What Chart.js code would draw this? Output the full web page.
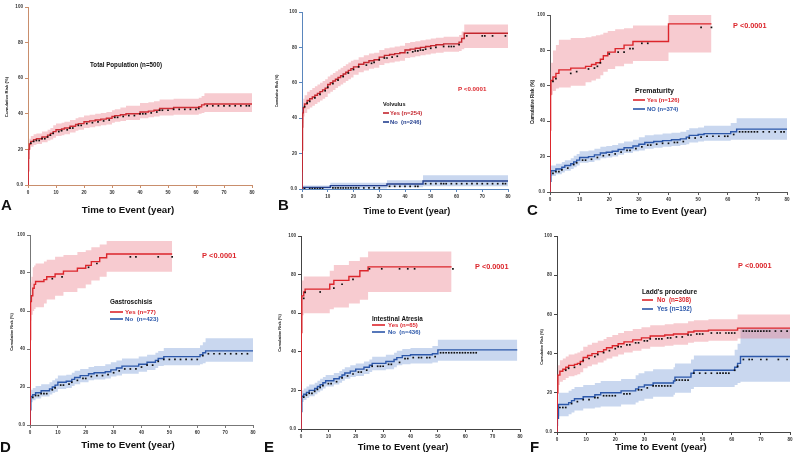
<!DOCTYPE html>
<html>
<head>
<meta charset="utf-8">
<script src="https://cdn.jsdelivr.net/npm/chart.js@4.4.1/dist/chart.umd.min.js"></script>
<style>
  body { margin: 0; background: #fff; }
  #fig { position: relative; width: 800px; height: 459px; overflow: hidden; background: #fff; }
  #fig canvas { position: absolute; }
  .letter { position: absolute; font: bold 15px "Liberation Sans", Arial, sans-serif; color: #111; line-height: 1; }
</style>
</head>
<body>
<div id="fig"></div>
<script>
// tick labels
var xTickLabels = ['0', '10', '20', '30', '40', '50', '60', '70', '80'];
var yTickLabels = ['0.0', '20', '40', '60', '80', '100'];

// A - total population
var totT  = [0, 0.1, 0.2, 0.3, 0.5, 1, 2, 3, 5, 7, 8, 9, 10, 12, 13, 15, 17, 18, 20, 22, 24, 26, 28, 30, 31, 33, 35, 40, 43, 45, 47, 52, 61, 62, 63, 80];
var totV  = [0, 8, 15, 20, 23, 24.5, 25.5, 26, 27, 28, 29, 30, 31, 31.5, 32, 33, 34, 34.5, 35.5, 36, 36.5, 37, 37.5, 38.5, 39, 39.5, 40, 41, 41.5, 42, 43, 43.5, 44, 45, 45.5, 45.5];
var totLo = [0, 6, 12, 17, 20, 21.5, 22.5, 23, 24, 25, 25.5, 26.5, 27.5, 28, 28.5, 29.5, 30.5, 31, 32, 32.5, 33, 33.5, 34, 35, 35.5, 36, 36.5, 37.5, 38, 38.5, 39, 39.5, 40, 40.5, 41, 41];
var totHi = [0, 10, 18, 23, 26, 27.5, 28.5, 29, 30, 31, 32, 33.5, 34.5, 35, 35.5, 36.5, 37.5, 38, 39, 39.5, 40, 40.5, 41, 42, 42.5, 43.5, 44.5, 46, 46.5, 47, 48, 48.5, 49, 50, 51.5, 51.5];
var totCx = [1, 2, 3, 4, 5, 6, 7, 8, 9, 11, 12, 14, 15, 16, 18, 19, 21, 23, 25, 27, 29, 31, 32, 34, 36, 38, 40, 41, 42, 44, 46, 47, 48, 50, 52, 54, 56, 58, 60, 61, 64, 66, 68, 70, 72, 74, 76, 78, 79];
var totCy = [23.5, 24.5, 25, 25, 26, 26, 27, 28, 29, 30, 30.5, 31, 32, 32, 33.5, 33.5, 34.5, 35, 35.5, 36, 36.5, 38, 38, 38.5, 39, 39, 40, 40, 40, 40.5, 41, 42, 42, 42, 42.5, 42.5, 42.5, 42.5, 42.5, 43, 44.5, 44.5, 44.5, 44.5, 44.5, 44.5, 44.5, 44.5, 44.5];

// B - volvulus
var volYesT  = [0, 0.05, 0.1, 0.2, 0.3, 0.5, 1, 2, 3, 4, 5, 6, 7, 8, 9, 10, 11, 12, 13, 14, 15, 16, 17, 18, 19, 20, 22, 24, 26, 28, 30, 32, 34, 36, 38, 40, 42, 44, 46, 48, 50, 52, 55, 61, 62, 63, 80];
var volYesV  = [0, 10, 22, 35, 43, 46, 48, 50, 51, 52, 53, 54, 55, 56, 57, 59, 60, 61, 62, 63, 64, 65, 66, 67, 68, 69, 70.5, 71.5, 72.5, 73, 74.5, 75.5, 76, 76.5, 77, 78.5, 79, 79.5, 80, 80.5, 81, 81.5, 82, 83, 85, 88, 88];
var volYesLo = [0, 5, 15, 28, 37, 41, 43, 45, 46, 47, 48, 49, 50, 51, 52, 54, 55, 56, 57, 58, 59, 60, 61, 62, 63, 64.5, 66, 67, 68, 68.5, 70, 71, 71.5, 72, 72.5, 74, 74.5, 75, 75.5, 76, 76.5, 77, 77.5, 78, 79, 79.7, 79.7];
var volYesHi = [0, 15, 29, 42, 49, 51, 53, 55, 56, 57, 58, 59, 60, 61, 62, 63.5, 64.5, 65.5, 66.5, 67.5, 68.5, 69.5, 70.5, 71.5, 72.5, 73, 74.5, 75.5, 76.5, 77, 78.5, 79.5, 80, 80.5, 81, 82.5, 83, 83.5, 84, 84.5, 85, 85.5, 86, 87, 89, 93, 93];
var volYesCx = [1, 2, 3, 5, 7, 9, 10, 12, 14, 16, 18, 20, 22, 25, 27, 28, 30, 32, 33, 35, 37, 41, 43, 44, 45, 46, 47, 48, 50, 52, 55, 57, 58, 59, 61, 64, 70, 71, 74, 79];
var volYesCy = [46.5, 48.5, 49.5, 51.5, 53.5, 55.5, 57.5, 59.5, 61.5, 63.5, 65.5, 67.5, 69, 70, 71, 71.5, 73, 74, 74, 74.5, 75, 77, 77.5, 78, 78, 78.5, 78.5, 79, 79.5, 80, 80.5, 80.5, 80.5, 80.5, 81.5, 86.5, 86.5, 86.5, 86.5, 86.5];
var volNoT  = [0, 0.3, 10, 11, 32, 33, 46, 47, 80];
var volNoV  = [0, 0.9, 0.9, 1.9, 1.9, 2.8, 2.8, 4.5, 4.5];
var volNoLo = [0, 0, 0, 0.3, 0.3, 1, 1, 1.5, 1.5];
var volNoHi = [0, 2, 2, 3.5, 3.5, 5, 5, 7.8, 7.8];
var volNoCx = [1, 3, 4, 5, 6, 7, 8, 12, 13, 14, 15, 16, 17, 18, 19, 20, 21, 22, 24, 26, 28, 30, 34, 36, 38, 40, 42, 44, 45, 48, 50, 52, 54, 55, 56, 58, 60, 62, 64, 66, 68, 70, 72, 74, 76, 78, 79];
var volNoCy = [0.2, 0.2, 0.2, 0.2, 0.2, 0.2, 0.2, 0.6, 0.6, 0.6, 0.6, 0.6, 0.6, 0.6, 0.6, 0.6, 0.6, 0.6, 0.6, 0.6, 0.6, 0.6, 1.5, 1.5, 1.5, 1.5, 1.5, 1.5, 1.5, 3, 3, 3, 3, 3, 3, 3, 3, 3, 3, 3, 3, 3, 3, 3, 3, 3, 3];

// C - prematurity
var premYesT  = [0, 0.05, 0.1, 0.2, 0.3, 1, 2, 3, 7, 12, 14, 15.5, 17, 18, 19.5, 22, 25, 28, 40, 54.5];
var premYesV  = [0, 15, 35, 55, 63, 65, 67, 69, 70, 71, 72, 73, 75, 77, 79, 81, 83, 85, 95, 95];
var premYesLo = [0, 5, 20, 45, 55, 57, 58.5, 59, 60, 62, 63, 64, 66, 68, 69.5, 71, 72.5, 74, 78.8, 78.8];
var premYesHi = [0, 25, 50, 68, 73, 80, 83, 86, 87, 87.5, 88, 88.5, 89, 90, 91, 92, 92.5, 94, 100, 100];
var premYesCx = [1, 2, 7, 9, 13, 15, 16, 17, 20, 23, 25, 27, 28, 31, 33, 51, 54.5];
var premYesCy = [62.5, 64, 67, 68, 69.5, 70, 71, 73, 78, 79, 79, 81, 81, 84, 84, 93, 93];
var premNoT  = [0, 0.1, 0.3, 2, 4, 5, 7, 8, 9, 10, 13, 15, 17, 19, 21, 23, 25, 28, 30, 32, 35, 38, 41, 44, 46, 47, 50, 52, 61, 63, 80];
var premNoV  = [0, 6, 12, 13, 14, 15, 16, 17, 18, 19.5, 20, 21, 22, 22.5, 23, 24, 25, 26, 27, 28, 28.5, 29, 29.5, 30, 31, 32, 32.5, 33, 34, 35.5, 35.5];
var premNoLo = [0, 4, 9, 10, 11, 12, 13, 14, 15, 16.5, 17, 18, 19, 19.5, 20, 21, 22, 23, 23.5, 24.5, 25, 25.5, 26, 26.5, 27, 28, 28.5, 29, 29.5, 29.5, 29.5];
var premNoHi = [0, 8, 15, 16, 17, 18, 19, 20.5, 21.5, 23, 23.5, 24.5, 25.5, 26, 26.5, 27.5, 28.5, 29.5, 31, 32, 32.5, 33, 33.5, 34, 35, 36, 36.5, 37.5, 39, 41.7, 41.7];
var premNoCx = [1, 2, 3, 4, 6, 8, 9, 11, 12, 14, 16, 18, 20, 22, 24, 26, 27, 29, 31, 33, 34, 36, 38, 40, 42, 43, 45, 47, 49, 51, 53, 55, 57, 59, 60, 62, 64, 65, 66, 67, 68, 69, 70, 72, 74, 76, 78, 79];
var premNoCy = [10.5, 11.5, 11.5, 12.5, 13.5, 15.5, 16.5, 18, 18, 18.5, 19.5, 20.5, 21, 21.5, 22.5, 23.5, 23.5, 24.5, 25.5, 26.5, 26.5, 27, 27.5, 27.5, 28, 28, 28.5, 30.5, 30.5, 31, 31.5, 31.5, 31.5, 31.5, 31.5, 32.5, 34, 34, 34, 34, 34, 34, 34, 34, 34, 34, 34, 34];

// D - gastroschisis
var gasYesT  = [0, 0.05, 0.1, 0.2, 0.5, 1, 1.5, 2, 5, 6, 9, 12, 17, 20, 22, 25, 27.5, 51];
var gasYesV  = [0, 20, 45, 65, 68, 72, 74, 75.5, 76.5, 78, 79.5, 81, 82.5, 84, 86, 88, 90, 90];
var gasYesLo = [0, 10, 30, 55, 58, 60, 61, 62, 64, 66, 68, 70, 72, 74, 76, 78, 80.7, 80.7];
var gasYesHi = [0, 30, 60, 75, 78, 83, 84, 85, 86, 87, 88.5, 89.5, 91, 92, 93.5, 95, 96.8, 96.8];
var gasYesCx = [8, 11.5, 21, 24, 36, 38, 46, 51];
var gasYesCy = [77, 78, 83, 85, 88.5, 88.5, 88.5, 88.5];
var gasNoT  = [0, 0.1, 0.3, 1, 2, 4, 7, 8, 9, 10, 13, 15, 16, 18, 21, 23, 27, 29, 31, 33, 39, 42, 45, 46, 48, 61, 62, 63, 80];
var gasNoV  = [0, 8, 15, 16, 17, 18, 19, 20, 21, 22.5, 23, 24, 25, 26, 27, 27.5, 28, 29, 30, 31, 32, 33, 34, 35, 36, 37, 38, 39, 39];
var gasNoLo = [0, 5, 12, 13, 14, 15, 16, 17, 17.5, 19, 19.5, 20.5, 21.5, 22.5, 23.5, 24, 24.5, 25.5, 26, 27, 28, 29, 30, 31, 31.5, 32, 32.5, 33.3, 33.3];
var gasNoHi = [0, 11, 18.5, 19.5, 20.5, 21.5, 22.5, 23.5, 24.5, 26, 26.5, 27.5, 28.5, 29.5, 30.5, 31, 32, 33, 34, 35, 36, 37, 38, 39, 40.5, 42, 43.5, 45.6, 45.6];
var gasNoCx = [1, 2, 3, 4, 5, 6, 8, 9, 11, 12, 14, 15, 17, 19, 20, 22, 24, 26, 28, 30, 32, 34, 36, 38, 40, 42, 44, 46, 48, 50, 52, 54, 56, 58, 60, 62, 64, 66, 68, 70, 72, 74, 76, 78];
var gasNoCy = [14.5, 15.5, 15.5, 16.5, 16.5, 16.5, 18.5, 19.5, 21, 21, 21.5, 22.5, 23.5, 24.5, 24.5, 25.5, 26, 26, 26.5, 27.5, 28.5, 29.5, 29.5, 29.5, 30.5, 31.5, 31.5, 33.5, 34.5, 34.5, 34.5, 34.5, 34.5, 34.5, 34.5, 36.5, 37.5, 37.5, 37.5, 37.5, 37.5, 37.5, 37.5, 37.5];

// E - intestinal atresia
var iaYesT  = [0, 0.05, 0.1, 0.3, 1, 1.5, 10.5, 12, 17.5, 21.5, 24.5, 55];
var iaYesV  = [0, 25, 50, 69, 71, 72.5, 75, 77, 79, 82, 84, 84];
var iaYesLo = [0, 10, 35, 59, 60, 60, 62, 63, 65, 67, 71, 71];
var iaYesHi = [0, 40, 65, 77, 79, 79, 82, 85, 87, 89, 92, 92];
var iaYesCx = [1, 1.5, 7, 12, 15, 19, 25, 29.5, 36, 39, 41.5, 55.5];
var iaYesCy = [67.7, 70.8, 71, 73, 75, 77.5, 83, 83, 83, 83, 83, 83];
var iaNoT  = [0, 0.1, 0.3, 1, 2, 3, 5, 6, 7, 8, 9, 12, 14, 15, 16, 18, 20, 23, 25, 26, 31, 34, 35, 37, 40, 48, 50, 79];
var iaNoV  = [0, 9, 17, 18, 19, 20, 21, 22, 23, 24, 25, 26, 27, 28, 29, 30, 31, 32, 33, 34, 35, 36, 37, 38, 38.5, 39, 41, 41];
var iaNoLo = [0, 6, 14, 15, 16, 17, 18, 19, 20, 21, 22, 23, 24, 25, 26, 27, 27.5, 28.5, 29.5, 30.5, 31, 32, 33, 33.5, 34, 34.5, 35.3, 35.3];
var iaNoHi = [0, 12, 20, 21, 22, 23, 24, 25, 26, 27, 28, 29, 30, 31, 32, 33, 34, 35, 36, 37.5, 38.5, 39.5, 40.5, 41.5, 42, 43, 46.2, 46.2];
var iaNoCx = [1, 2, 3, 4, 5, 6, 7, 8, 10, 11, 13, 15, 17, 19, 21, 22, 24, 26, 28, 29, 30, 32, 33, 36, 38, 39, 41, 43, 44, 46, 47, 49, 51, 52, 53, 54, 55, 56, 57, 58, 59, 60, 61, 62, 63, 64];
var iaNoCy = [16.5, 17.5, 18.5, 18.5, 19.5, 20.5, 21.5, 22.5, 23.5, 23.5, 24.5, 26.5, 27.5, 28.5, 29.5, 29.5, 30.5, 32.5, 32.5, 32.5, 32.5, 33.5, 33.5, 34.5, 36.5, 36.5, 37, 37, 37, 37, 37, 37.5, 39.5, 39.5, 39.5, 39.5, 39.5, 39.5, 39.5, 39.5, 39.5, 39.5, 39.5, 39.5, 39.5, 39.5];

// F - Ladd's procedure
var laddNoT  = [0, 0.05, 0.1, 0.3, 1, 2, 3, 4, 6, 7, 8, 9, 10.5, 12, 14, 16, 17, 19, 21, 23, 26, 29, 32, 37, 40, 45, 47, 52, 62, 80];
var laddNoV  = [0, 10, 20, 29, 31, 32, 33, 34, 34.5, 35, 36, 38, 39, 40, 41, 42, 43, 44, 45, 46, 47, 48, 49, 49.5, 50, 51, 51.5, 52, 53, 53];
var laddNoLo = [0, 5, 14, 24, 25.6, 26.5, 27.5, 28.5, 29, 29.5, 30.5, 32.5, 33.5, 34.5, 35.5, 36.5, 37.5, 38.5, 39.5, 40.5, 41.5, 42.5, 43.5, 44, 44.5, 45.5, 46, 46.5, 47.7, 47.7];
var laddNoHi = [0, 15, 26, 34, 36.6, 37.5, 38.5, 39.5, 40, 40.5, 41.5, 43.5, 44.5, 45.5, 46.5, 47.5, 48.5, 49.5, 50.5, 51.5, 52.5, 53.5, 54.5, 55, 55.5, 56.5, 57, 57.5, 60, 60];
var laddNoCx = [3, 4, 6, 8, 9, 11, 13, 14, 16, 18, 20, 21, 22, 24, 25, 27, 28, 30, 31, 32, 34, 35, 36, 38, 39, 41, 43, 45, 46, 48, 49, 50, 53, 55, 56, 58, 59, 60, 61, 64, 65, 66, 67, 68, 69, 70, 71, 72, 73, 75, 77, 79];
var laddNoCy = [31.5, 32.5, 33, 34.5, 36.5, 37.5, 38.5, 39.5, 40.5, 41.5, 42.5, 43.5, 43.5, 44.5, 44.5, 45.5, 45.5, 46.5, 46.5, 47.5, 47.5, 47.5, 47.5, 48, 48, 48.5, 48.5, 49.5, 49.5, 50, 50, 50, 50.5, 50.5, 50.5, 50.5, 50.5, 50.5, 50.5, 51.5, 51.5, 51.5, 51.5, 51.5, 51.5, 51.5, 51.5, 51.5, 51.5, 51.5, 51.5, 51.5];
var laddYesT  = [0, 0.1, 0.5, 4, 5, 6, 9, 13, 15, 22, 27, 28, 30, 33, 40, 40.5, 46, 47, 61, 62, 63, 80];
var laddYesV  = [0, 7, 14, 15, 16, 17, 18, 19, 20, 21, 22, 23, 24, 25, 26, 28, 30, 31.5, 33, 35, 38.5, 38.5];
var laddYesLo = [0, 3, 8, 9, 10, 11, 12, 12.5, 13, 14, 15, 16, 17, 18, 19, 20, 22, 23, 24, 25, 25.6, 25.6];
var laddYesHi = [0, 12, 20, 21, 22, 23, 24, 25, 26, 27, 29, 30, 31, 32, 33, 35, 37, 39, 42, 45, 52.8, 52.8];
var laddYesCx = [1, 2, 3, 5, 7, 9, 11, 13, 14, 16, 17, 18, 19, 20, 23, 24, 25, 28, 29, 31, 33, 34, 35, 36, 37, 38, 39, 41, 42, 43, 44, 45, 47, 49, 51, 53, 55, 56, 57, 58, 59, 61, 62, 64, 66, 67, 70, 72, 76, 79];
var laddYesCy = [12.5, 12.5, 12.5, 14.5, 15.5, 16.5, 16.5, 17.5, 17.5, 18.5, 18.5, 18.5, 18.5, 18.5, 19.5, 19.5, 19.5, 21.5, 21.5, 22.5, 23.5, 23.5, 23.5, 23.5, 23.5, 23.5, 23.5, 26.5, 26.5, 26.5, 26.5, 26.5, 30, 30, 30, 30, 30, 30, 30, 30, 30, 31.5, 33.5, 37, 37, 37, 37, 37, 37, 37];

var RED = '#dc262c', BLUE = '#2d58aa';
var PINK = 'rgba(232,110,125,0.36)', LBLUE = 'rgba(105,145,212,0.36)';
var FONT = '"Liberation Sans", Arial, sans-serif';
var xTitle = 'Time to Event (year)';
var yTitle = 'Cumulative Risk (%)';

// layout of each panel (page pixels): canvas box, plot box, titles, notes
var panels = [
  { id: 'A', box: [0, 0, 258, 218], plot: [28, 7, 252, 185], axis: '#c98e6c',
    xT: [128, 210, 9.7], yT: [7, 97, 4.2], letter: [1, 197],
    curves: [{t: totT, v: totV, lo: totLo, hi: totHi, cx: totCx, cy: totCy, line: '#cf2e36', band: PINK}],
    swatches: [],
    notes: [{s: 'Total Population (n=500)', x: 90, y: 65, size: 7.6, sx: 0.82, c: '#111'}] },
  { id: 'B', box: [270, 2, 244, 218], plot: [302, 12, 508, 189], axis: '#5a86bd',
    xT: [407, 211, 9.1], yT: [277, 91, 3.4], letter: [278, 197],
    curves: [{t: volYesT, v: volYesV, lo: volYesLo, hi: volYesHi, cx: volYesCx, cy: volYesCy, line: '#c4262e', band: PINK},
             {t: volNoT, v: volNoV, lo: volNoLo, hi: volNoHi, cx: volNoCx, cy: volNoCy, line: '#25408f', band: LBLUE}],
    swatches: [[383, 389, 113, '#c4262e'], [383, 389, 122, '#25408f']],
    notes: [{s: 'Volvulus', x: 383, y: 104, size: 5.5, c: '#111'},
            {s: 'Yes (n=254)', x: 390, y: 113, size: 5.8, c: '#c4262e'},
            {s: 'No  (n=246)', x: 390, y: 122, size: 5.8, c: '#25408f'},
            {s: 'P <0.0001', x: 458, y: 89, size: 6.2, c: RED}] },
  { id: 'C', box: [528, 4, 268, 218], plot: [550, 15, 787, 192], axis: '#555',
    xT: [661, 211, 9.6], yT: [533, 102, 4.6], letter: [527, 202],
    curves: [{t: premYesT, v: premYesV, lo: premYesLo, hi: premYesHi, cx: premYesCx, cy: premYesCy, line: RED, band: PINK},
             {t: premNoT, v: premNoV, lo: premNoLo, hi: premNoHi, cx: premNoCx, cy: premNoCy, line: BLUE, band: LBLUE}],
    swatches: [[633, 645, 100, RED], [633, 645, 109, BLUE]],
    notes: [{s: 'Prematurity', x: 635, y: 91, size: 7, c: '#111'},
            {s: 'Yes (n=126)', x: 647, y: 100, size: 5.9, c: RED},
            {s: 'NO (n=374)', x: 647, y: 109, size: 5.9, c: BLUE},
            {s: 'P <0.0001', x: 733, y: 26, size: 7.3, c: RED}] },
  { id: 'D', box: [2, 228, 256, 228], plot: [30, 235, 253, 425], axis: '#777',
    xT: [128, 445, 9.8], yT: [12, 332, 3.9], letter: [0, 439],
    curves: [{t: gasYesT, v: gasYesV, lo: gasYesLo, hi: gasYesHi, cx: gasYesCx, cy: gasYesCy, line: RED, band: PINK},
             {t: gasNoT, v: gasNoV, lo: gasNoLo, hi: gasNoHi, cx: gasNoCx, cy: gasNoCy, line: BLUE, band: LBLUE}],
    swatches: [[110, 123, 312, RED], [110, 123, 319, BLUE]],
    notes: [{s: 'Gastroschisis', x: 110, y: 302, size: 6.4, c: '#111'},
            {s: 'Yes (n=77)', x: 125, y: 312, size: 6.2, c: RED},
            {s: 'No  (n=423)', x: 125, y: 319, size: 6.2, c: BLUE},
            {s: 'P <0.0001', x: 202, y: 256, size: 7.5, c: RED}] },
  { id: 'E', box: [272, 228, 254, 228], plot: [301, 236, 520, 429], axis: '#444',
    xT: [403, 447, 9.5], yT: [280, 333, 3.9], letter: [264, 439],
    curves: [{t: iaYesT, v: iaYesV, lo: iaYesLo, hi: iaYesHi, cx: iaYesCx, cy: iaYesCy, line: RED, band: PINK},
             {t: iaNoT, v: iaNoV, lo: iaNoLo, hi: iaNoHi, cx: iaNoCx, cy: iaNoCy, line: BLUE, band: LBLUE}],
    swatches: [[372, 385, 325, RED], [372, 385, 332, BLUE]],
    notes: [{s: 'Intestinal Atresia', x: 372, y: 319, size: 6.3, c: '#111'},
            {s: 'Yes (n=65)', x: 388, y: 325, size: 6, c: RED},
            {s: 'No  (n=436)', x: 388, y: 332, size: 6, c: BLUE},
            {s: 'P <0.0001', x: 475, y: 267, size: 7.3, c: RED}] },
  { id: 'F', box: [532, 228, 266, 228], plot: [557, 236, 790, 432], axis: '#444',
    xT: [661, 447, 9.6], yT: [542, 347, 3.7], letter: [530, 439],
    curves: [{t: laddNoT, v: laddNoV, lo: laddNoLo, hi: laddNoHi, cx: laddNoCx, cy: laddNoCy, line: RED, band: PINK},
             {t: laddYesT, v: laddYesV, lo: laddYesLo, hi: laddYesHi, cx: laddYesCx, cy: laddYesCy, line: BLUE, band: LBLUE}],
    swatches: [[642, 653, 300, RED], [642, 653, 309, BLUE]],
    notes: [{s: "Ladd's procedure", x: 642, y: 292, size: 6.6, c: '#111'},
            {s: 'No  (n=308)', x: 657, y: 300, size: 6.3, c: RED},
            {s: 'Yes (n=192)', x: 657, y: 309, size: 6.3, c: BLUE},
            {s: 'P <0.0001', x: 738, y: 266, size: 7.3, c: RED}] }
];

function pts(t, v) {
  return t.map(function(x, i) { return {x: x, y: v[i]}; });
}

function curveSets(c) {
  return [
    {data: pts(c.t, c.hi), borderWidth: 0, pointRadius: 0, fill: false, stepped: true, order: 3},
    {data: pts(c.t, c.lo), borderWidth: 0, pointRadius: 0, fill: '-1', backgroundColor: c.band, stepped: true, order: 3},
    {data: pts(c.t, c.v), borderColor: c.line, borderWidth: 1.4, pointRadius: 0, fill: false, stepped: true, order: 2},
    {data: pts(c.cx, c.cy), showLine: false, pointStyle: 'rect', pointRadius: 1.2, backgroundColor: '#111', borderWidth: 0, order: 1}
  ];
}

// draws titles, legend and p value text in page coordinates
function notesPlugin(p) {
  return {
    id: 'notes' + p.id,
    afterDraw: function(chart) {
      var ctx = chart.ctx;
      ctx.save();
      ctx.translate(-p.box[0], -p.box[1]);
      ctx.textBaseline = 'middle';
      ctx.fillStyle = '#111';
      ctx.textAlign = 'center';
      ctx.font = 'bold ' + p.xT[2] + 'px ' + FONT;
      ctx.fillText(xTitle, p.xT[0], p.xT[1]);
      ctx.save();
      ctx.translate(p.yT[0], p.yT[1]);
      ctx.rotate(-Math.PI / 2);
      ctx.font = 'bold ' + p.yT[2] + 'px ' + FONT;
      ctx.fillText(yTitle, 0, 0);
      ctx.restore();
      p.swatches.forEach(function(s) {
        ctx.fillStyle = s[3];
        ctx.fillRect(s[0], s[2] - 0.8, s[1] - s[0], 1.6);
      });
      ctx.textAlign = 'left';
      p.notes.forEach(function(n) {
        ctx.save();
        ctx.translate(n.x, n.y);
        ctx.scale(n.sx || 1, 1);
        ctx.fillStyle = n.c;
        ctx.font = 'bold ' + n.size + 'px ' + FONT;
        ctx.fillText(n.s, 0, 0);
        ctx.restore();
      });
      ctx.restore();
    }
  };
}

var fig = document.getElementById('fig');

panels.forEach(function(p) {
  var cv = document.createElement('canvas');
  cv.width = p.box[2];
  cv.height = p.box[3];
  cv.style.left = p.box[0] + 'px';
  cv.style.top = p.box[1] + 'px';
  fig.appendChild(cv);

  var yw = p.plot[0] - p.box[0];
  var xh = p.box[1] + p.box[3] - p.plot[3];
  var datasets = [];
  p.curves.forEach(function(c) { datasets = datasets.concat(curveSets(c)); });

  var tickFont = {size: 4.6, weight: 'bold', family: FONT};

  new Chart(cv, {
    type: 'line',
    data: {datasets: datasets},
    options: {
      responsive: false,
      animation: false,
      events: [],
      layout: {padding: {top: p.plot[1] - p.box[1], right: p.box[0] + p.box[2] - p.plot[2], left: 0, bottom: 0}},
      plugins: {legend: {display: false}, tooltip: {enabled: false}},
      scales: {
        x: {
          type: 'linear', min: 0, max: 80,
          afterFit: function(s) { s.height = xh; },
          ticks: {stepSize: 10, autoSkip: false, maxRotation: 0, padding: 2, color: '#333', font: tickFont,
                  callback: function(v, i) { return xTickLabels[i]; }},
          grid: {drawOnChartArea: false, drawTicks: true, tickLength: 3, color: p.axis},
          border: {color: p.axis, width: 1}
        },
        y: {
          min: 0, max: 100,
          afterFit: function(s) { s.width = yw; },
          ticks: {stepSize: 20, padding: 2, color: '#333', font: tickFont,
                  callback: function(v, i) { return yTickLabels[i]; }},
          grid: {drawOnChartArea: false, drawTicks: true, tickLength: 3, color: p.axis},
          border: {color: p.axis, width: 1}
        }
      }
    },
    plugins: [notesPlugin(p)]
  });

  var lt = document.createElement('div');
  lt.className = 'letter';
  lt.textContent = p.id;
  lt.style.left = p.letter[0] + 'px';
  lt.style.top = p.letter[1] + 'px';
  fig.appendChild(lt);
});
</script>
</body>
</html>
